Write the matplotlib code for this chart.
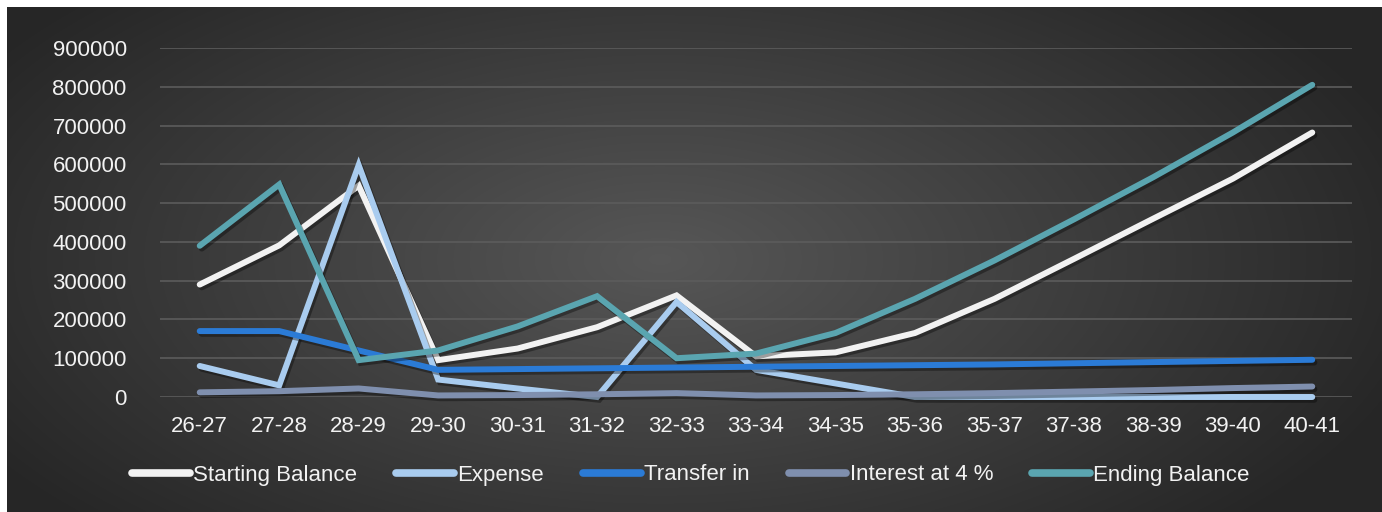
import matplotlib
matplotlib.use("Agg")
import matplotlib.pyplot as plt
import matplotlib.patheffects as pe
import numpy as np

years = ["26-27", "27-28", "28-29", "29-30", "30-31", "31-32", "32-33", "33-34",
         "34-35", "35-36", "35-37", "37-38", "38-39", "39-40", "40-41"]

starting_balance = [290000, 391000, 545000, 95000, 125000, 180000, 262000, 105000,
                    115000, 165000, 253000, 356000, 460000, 563000, 682000]
expense = [80000, 30000, 598000, 45000, 22000, 0, 245000, 70000,
           35000, 0, 0, 0, 0, 0, 0]
transfer_in = [170000, 170000, 120000, 70000, 72000, 74000, 76000, 78000,
               80000, 82000, 84000, 87000, 90000, 93000, 96000]
interest = [12000, 15000, 22000, 4000, 5000, 7000, 10000, 4000,
            5000, 7000, 10000, 14000, 18000, 23000, 27000]
ending_balance = [390000, 548000, 95000, 120000, 182000, 260000, 100000, 112000,
                  165000, 253000, 352000, 458000, 567000, 682000, 805000]

series = [
    ("Starting Balance", starting_balance, "#F2F2F2"),
    ("Expense", expense, "#A9CCEF"),
    ("Transfer in", transfer_in, "#2B7BD6"),
    ("Interest at 4 %", interest, "#7F8FAE"),
    ("Ending Balance", ending_balance, "#5AA5B0"),
]

plt.rcParams["font.family"] = ["Liberation Sans", "DejaVu Sans"]

fig = plt.figure(figsize=(13.82, 5.12), dpi=100, facecolor="white")

# dark radial gradient background
bg = fig.add_axes([7 / 1382, 0, 1 - 7 / 1382, 1 - 7 / 512])
bg.set_axis_off()
gx, gy = np.meshgrid(np.linspace(-1, 1, 400), np.linspace(-1, 1, 200))
r = np.sqrt((gx + 0.05) ** 2 + (gy * 0.75) ** 2)
r = np.clip(r / 1.15, 0, 1)
shade = 0.34 - 0.19 * r
img = np.dstack([shade, shade, shade])
bg.imshow(img, aspect="auto", extent=[0, 1, 0, 1], interpolation="bilinear")
bg.set_xlim(0, 1)
bg.set_ylim(0, 1)

ax = fig.add_axes([160 / 1382, 1 - 397 / 512, 1192 / 1382, 349 / 512])
ax.patch.set_alpha(0)
x = np.arange(len(years))

for name, vals, col in series:
    ax.plot(x, vals, color=col, lw=4.3, label=name, solid_capstyle="round",
            solid_joinstyle="miter", clip_on=False,
            path_effects=[pe.SimpleLineShadow(offset=(1.5, -2), shadow_color="black", alpha=0.35),
                          pe.Normal()])

ax.set_xlim(-0.5, len(years) - 0.5)
ax.set_ylim(0, 900000)
ax.set_yticks(np.arange(0, 900001, 100000))
ax.set_yticklabels([str(v) for v in range(0, 900001, 100000)])
ax.set_xticks(x)
ax.set_xticklabels(years)
ax.grid(axis="y", color="#5C5C5C", lw=1.2)
ax.set_axisbelow(True)
for s in ax.spines.values():
    s.set_visible(False)
ax.tick_params(axis="both", length=0, colors="#F2F2F2", labelsize=16)
ax.tick_params(axis="y", pad=24)
ax.tick_params(axis="x", pad=14)

handles, labels = ax.get_legend_handles_labels()
leg = fig.legend(handles, labels, loc="center", bbox_to_anchor=(0.5, 1 - 475 / 512), ncol=5,
                 frameon=False, fontsize=16, handlelength=2.6, handletextpad=0.15,
                 columnspacing=1.75, labelcolor="#F2F2F2")
for h in leg.get_lines():
    h.set_linewidth(5.5)
    h.set_solid_capstyle("round")
    h.set_path_effects([])

fig.savefig("out.png", dpi=100, facecolor=fig.get_facecolor())
